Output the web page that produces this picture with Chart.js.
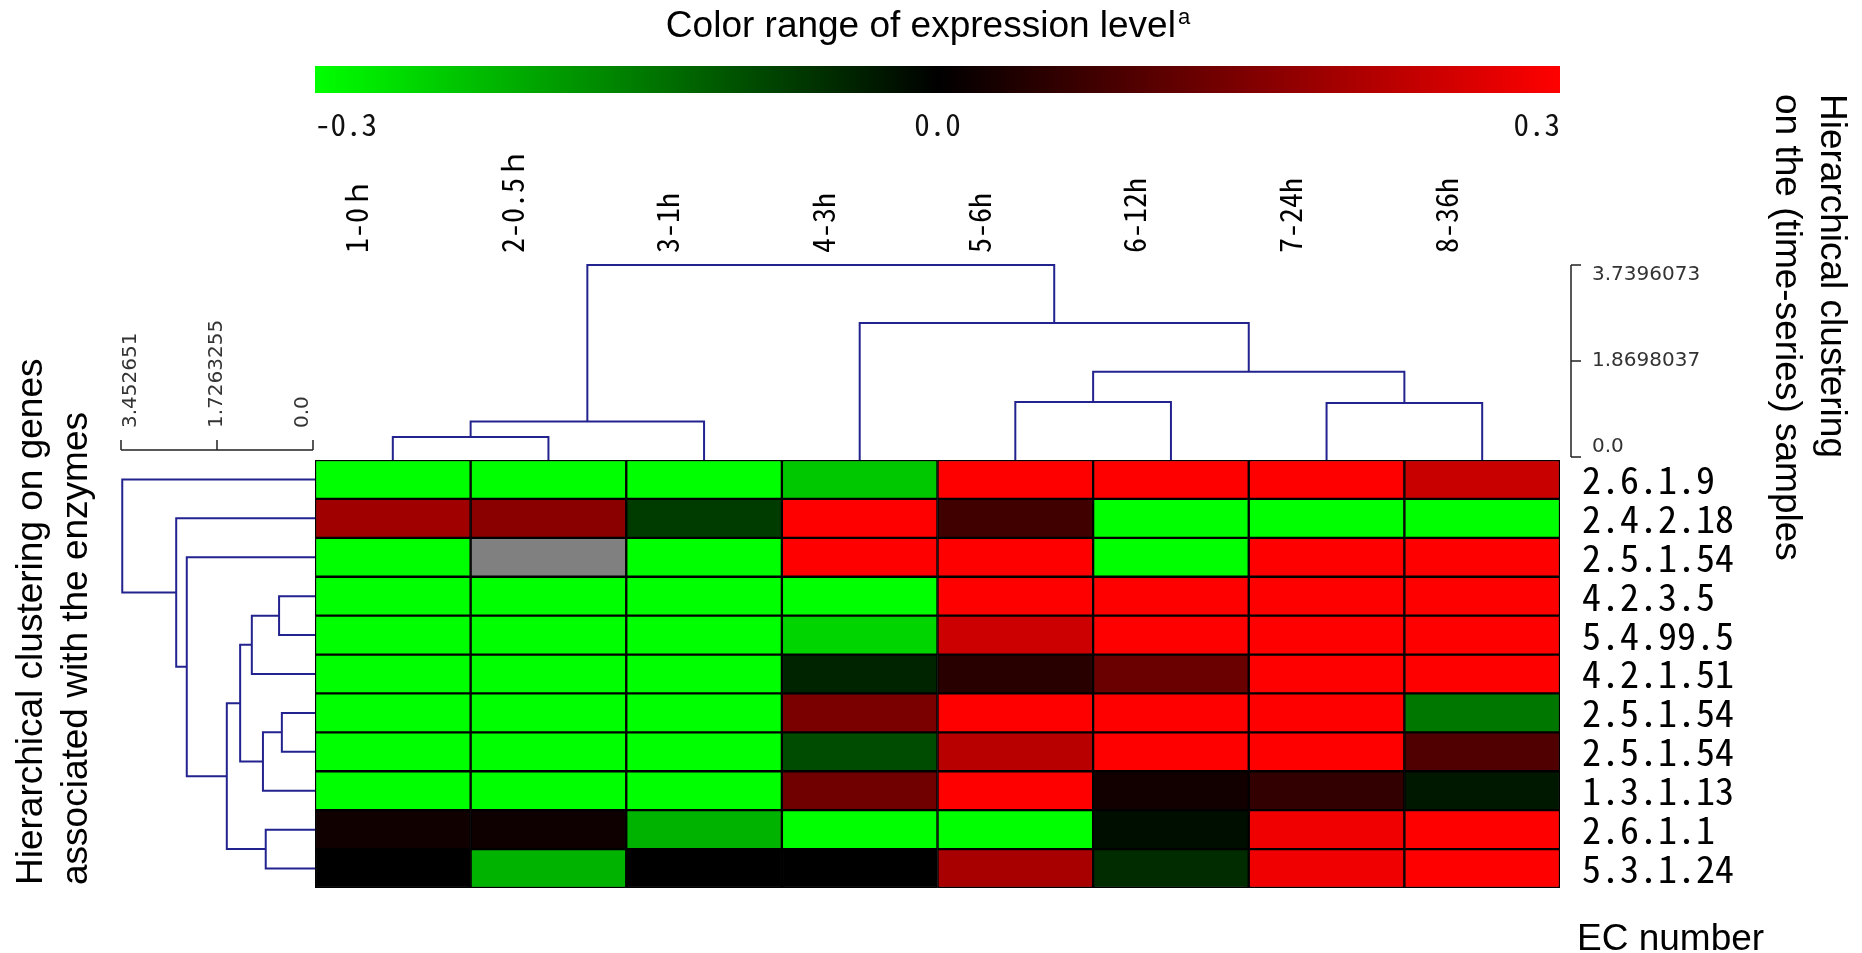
<!DOCTYPE html>
<html>
<head>
<meta charset="utf-8">
<script src="https://cdn.jsdelivr.net/npm/chart.js@4.4.1/dist/chart.umd.min.js"></script>
<style>
  html, body { margin: 0; padding: 0; background: #ffffff; }
  #wrap { width: 1862px; height: 953px; position: relative; }
</style>
</head>
<body>
<div id="wrap"><canvas id="c" width="1862" height="953"></canvas></div>
<script>
// ---------------- DATA ----------------
const samples = ['1-0ｈ', '2-0.5ｈ', '3-1h', '4-3h', '5-6h', '6-12h', '7-24h', '8-36h'];
const ecNumbers = ['2.6.1.9', '2.4.2.18', '2.5.1.54', '4.2.3.5', '5.4.99.5', '4.2.1.51',
                   '2.5.1.54', '2.5.1.54', '1.3.1.13', '2.6.1.1', '5.3.1.24'];

// expression values per sample (one value per EC row, top to bottom); null = missing
const s1_0h   = [-0.3,  0.188, -0.3, -0.3, -0.3,  -0.3,  -0.3,  -0.3,  -0.3,   0.019,  0.0];
const s2_05h  = [-0.3,  0.162, null, -0.3, -0.3,  -0.3,  -0.3,  -0.3,  -0.3,   0.016, -0.21];
const s3_1h   = [-0.3, -0.07,  -0.3, -0.3, -0.3,  -0.3,  -0.3,  -0.3,  -0.3,  -0.21,   0.0];
const s4_3h   = [-0.235, 0.3,   0.3, -0.3, -0.25, -0.042, 0.144, -0.089, 0.132, -0.3,   0.0];
const s5_6h   = [ 0.3,  0.075,  0.3,  0.3,  0.24,  0.047, 0.3,   0.216, 0.3,  -0.3,   0.198];
const s6_12h  = [ 0.3, -0.3,   -0.3,  0.3,  0.3,   0.125, 0.3,   0.3,   0.021, -0.016, -0.052];
const s7_24h  = [ 0.3, -0.3,    0.3,  0.3,  0.3,   0.3,   0.3,   0.3,   0.059,  0.282,  0.282];
const s8_36h  = [ 0.235, -0.3,  0.3,  0.3,  0.3,   0.3,  -0.141, 0.094, -0.028, 0.3,    0.3];
const sampleValues = [s1_0h, s2_05h, s3_1h, s4_3h, s5_6h, s6_12h, s7_24h, s8_36h];

// colour scale
const colorMin = -0.3, colorMax = 0.3;
const colorTickValues = [-0.3, 0.0, 0.3];
const colorTickLabels = ['-0.3', '0.0', '0.3'];

// hierarchical clustering (linkage: [childA, childB, height]; ids >= n are earlier merges)
const sampleLinkage = [[0, 1, 0.39], [8, 2, 0.69], [4, 5, 1.07], [6, 7, 1.05],
                       [10, 11, 1.66], [3, 12, 2.61], [9, 13, 3.7396073]];
const sampleScaleTicks = [3.7396073, 1.8698037, 0.0];
const sampleScaleLabels = ['3.7396073', '1.8698037', '0.0'];

const geneLinkage = [[3, 4, 0.61], [11, 5, 1.10], [6, 7, 0.56], [13, 8, 0.90],
                     [12, 14, 1.31], [9, 10, 0.85], [15, 16, 1.55], [2, 17, 2.27],
                     [1, 18, 2.46], [0, 19, 3.43]];
const geneScaleTicks = [3.452651, 1.7263255, 0.0];
const geneScaleLabels = ['3.452651', '1.7263255', '0.0'];

// ---------------- STYLE ----------------
const MONO = '"Noto Sans Mono CJK JP", "Noto Sans CJK JP", "Liberation Mono", monospace';
const SANS = '"Liberation Sans", Arial, Helvetica, sans-serif';
const DENDRO_COLOR = '#23238f';

function valueColor(v) {
  if (v === null || v === undefined) return '#808080';
  const t = Math.max(0, Math.min(1, Math.abs(v) / colorMax));
  const c = Math.round(255 * t);
  return v < 0 ? `rgb(0,${c},0)` : `rgb(${c},0,0)`;
}

const decor = {
  id: 'decor',
  afterDraw(chart) {
    const { ctx, chartArea: ca, scales } = chart;
    const xs = scales.x, ys = scales.y;
    ctx.save();

    // ---- title ----
    ctx.fillStyle = '#000';
    ctx.font = `37px ${SANS}`;
    ctx.textAlign = 'left';
    ctx.textBaseline = 'alphabetic';
    const title = 'Color range of expression level';
    const tw = ctx.measureText(title).width;
    ctx.font = `22px ${SANS}`;
    const aw = ctx.measureText('a').width;
    const tx = 928 - (tw + aw + 2) / 2;
    ctx.font = `37px ${SANS}`;
    ctx.fillText(title, tx, 37);
    ctx.font = `22px ${SANS}`;
    ctx.fillText('a', tx + tw + 2, 24);

    // ---- colour bar ----
    const bx0 = xs.getPixelForValue(0), bx1 = xs.getPixelForValue(samples.length);
    const grad = ctx.createLinearGradient(bx0, 0, bx1, 0);
    for (let i = 0; i <= 20; i++) {
      const v = colorMin + (colorMax - colorMin) * i / 20;
      grad.addColorStop(i / 20, valueColor(v));
    }
    ctx.fillStyle = grad;
    ctx.fillRect(bx0, 66, bx1 - bx0, 27);
    ctx.fillStyle = '#111';
    ctx.font = `31px ${MONO}`;
    ctx.textBaseline = 'alphabetic';
    colorTickValues.forEach((v, i) => {
      const px = bx0 + (v - colorMin) / (colorMax - colorMin) * (bx1 - bx0);
      ctx.textAlign = i === 0 ? 'left' : (i === colorTickValues.length - 1 ? 'right' : 'center');
      ctx.fillText(colorTickLabels[i], px, 136);
    });

    // ---- dendrograms ----
    function drawDendro(linkage, leafPos, edge, hToPix, vertical) {
      const n = leafPos.length;
      const pos = leafPos.slice();
      const lvl = new Array(n).fill(edge);
      ctx.strokeStyle = DENDRO_COLOR;
      ctx.lineWidth = 2;
      linkage.forEach(([a, b, h]) => {
        const p = hToPix(h);
        ctx.beginPath();
        if (vertical) {
          ctx.moveTo(pos[a], lvl[a]); ctx.lineTo(pos[a], p);
          ctx.lineTo(pos[b], p); ctx.lineTo(pos[b], lvl[b]);
        } else {
          ctx.moveTo(lvl[a], pos[a]); ctx.lineTo(p, pos[a]);
          ctx.lineTo(p, pos[b]); ctx.lineTo(lvl[b], pos[b]);
        }
        ctx.stroke();
        pos.push((pos[a] + pos[b]) / 2);
        lvl.push(p);
      });
    }

    // top (samples)
    const topBase = ca.top - 3, topSpan = 192;
    const topMax = sampleScaleTicks[0];
    const hTop = h => topBase - h / topMax * topSpan;
    drawDendro(sampleLinkage, samples.map((_, i) => xs.getPixelForValue(i + 0.5)), ca.top, hTop, true);

    // left (genes)
    const leftBase = ca.left - 2, leftSpan = 192;
    const leftMax = geneScaleTicks[0];
    const hLeft = h => leftBase - h / leftMax * leftSpan;
    drawDendro(geneLinkage, ecNumbers.map((_, i) => ys.getPixelForValue(i)), ca.left, hLeft, false);

    // ---- scale brackets ----
    ctx.strokeStyle = '#222';
    ctx.lineWidth = 1.5;
    // right bracket for sample dendrogram
    const rbx = ca.right + 11;
    ctx.beginPath();
    ctx.moveTo(rbx, hTop(sampleScaleTicks[0])); ctx.lineTo(rbx, hTop(0));
    sampleScaleTicks.forEach(v => { ctx.moveTo(rbx, hTop(v)); ctx.lineTo(rbx + 10, hTop(v)); });
    ctx.stroke();
    ctx.fillStyle = '#333';
    ctx.font = `20px "DejaVu Sans", sans-serif`;
    ctx.textAlign = 'left';
    sampleScaleTicks.forEach((v, i) => {
      ctx.textBaseline = i === 0 ? 'top' : (i === sampleScaleTicks.length - 1 ? 'bottom' : 'middle');
      ctx.fillText(sampleScaleLabels[i], rbx + 21, hTop(v));
    });
    // top bracket for gene dendrogram
    const lby = ca.top - 10;
    ctx.beginPath();
    ctx.moveTo(hLeft(geneScaleTicks[0]), lby); ctx.lineTo(hLeft(0), lby);
    geneScaleTicks.forEach(v => { ctx.moveTo(hLeft(v), lby); ctx.lineTo(hLeft(v), lby - 10); });
    ctx.stroke();
    geneScaleTicks.forEach((v, i) => {
      ctx.save();
      ctx.translate(hLeft(v), lby - 22);
      ctx.rotate(-Math.PI / 2);
      ctx.textAlign = 'left';
      ctx.textBaseline = i === 0 ? 'top' : (i === geneScaleTicks.length - 1 ? 'bottom' : 'middle');
      ctx.fillText(geneScaleLabels[i], 0, 0);
      ctx.restore();
    });

    // ---- side labels ----
    ctx.fillStyle = '#000';
    ctx.font = `37px ${SANS}`;
    ctx.textAlign = 'left';
    ctx.textBaseline = 'alphabetic';
    [['Hierarchical clustering on genes', 42], ['associated with the enzymes', 87]].forEach(([t, bx]) => {
      ctx.save(); ctx.translate(bx, 885); ctx.rotate(-Math.PI / 2); ctx.fillText(t, 0, 0); ctx.restore();
    });
    [['Hierarchical clustering', 1821], ['on the (time-series) samples', 1776]].forEach(([t, bx]) => {
      ctx.save(); ctx.translate(bx, 94); ctx.rotate(Math.PI / 2); ctx.fillText(t, 0, 0); ctx.restore();
    });
    ctx.fillText('EC number', 1577, 950);

    ctx.restore();
  }
};

new Chart(document.getElementById('c'), {
  type: 'bar',
  data: {
    labels: ecNumbers,
    datasets: sampleValues.map((vals, j) => ({
      label: samples[j],
      data: vals.map(() => 1),
      backgroundColor: vals.map(valueColor),
      borderColor: '#000',
      borderWidth: 1.5,
      borderSkipped: false,
      barPercentage: 1,
      categoryPercentage: 1
    }))
  },
  options: {
    indexAxis: 'y',
    responsive: false,
    animation: false,
    layout: { padding: { left: 315, right: 0, top: 0, bottom: 65 } },
    plugins: { legend: { display: false }, tooltip: { enabled: false }, title: { display: false } },
    scales: {
      x: {
        type: 'linear', position: 'top', stacked: true, min: 0, max: samples.length,
        grid: { display: false, drawTicks: false }, border: { display: false },
        afterBuildTicks: s => { s.ticks = samples.map((_, i) => ({ value: i + 0.5 })); },
        afterFit: s => { s.height = 460; },
        ticks: {
          autoSkip: false, minRotation: 90, maxRotation: 90, padding: 207,
          color: '#000', font: { family: MONO, size: 30 },
          callback: (v, i) => samples[i]
        }
      },
      y: {
        type: 'category', position: 'right', stacked: true, offset: true,
        grid: { display: false, drawTicks: false }, border: { display: false },
        afterFit: s => { s.width = 302; },
        ticks: { autoSkip: false, padding: 22, color: '#000', font: { family: MONO, size: 38 } }
      }
    }
  },
  plugins: [decor]
});
</script>
</body>
</html>
